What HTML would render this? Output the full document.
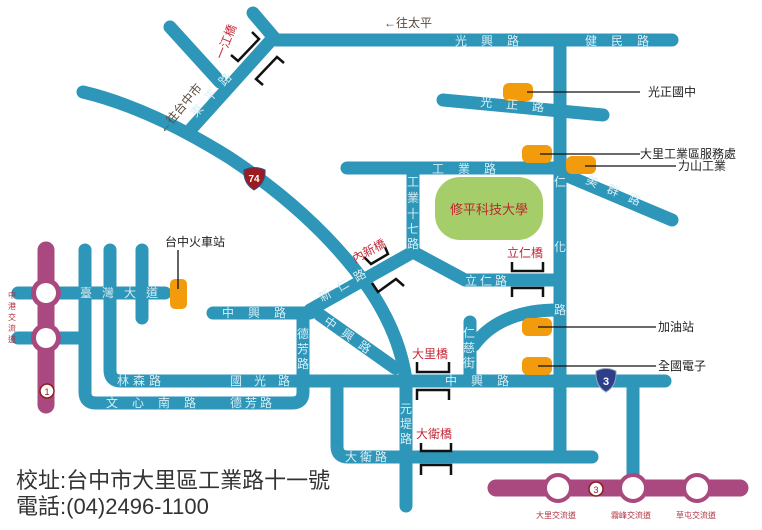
<!DOCTYPE html>
<html><head><meta charset="utf-8"><style>
html,body{margin:0;padding:0;background:#fff;}
svg{display:block;}
text{font-family:"Liberation Sans","Noto Sans CJK TC",sans-serif;}
.r{fill:none;stroke:#2e96b8;stroke-width:13;stroke-linecap:round;stroke-linejoin:round;}
.w{fill:#d8eef5;font-size:12px;}
.red{fill:#c42a3a;font-size:12px;}
.k{fill:#222;font-size:12px;}
.b{fill:none;stroke:#111;stroke-width:2.5;}
.o{fill:#f29b0c;}
.ln{stroke:#111;stroke-width:1.3;}
</style></head><body>
<svg width="762" height="530" viewBox="0 0 762 530" xmlns="http://www.w3.org/2000/svg">
<!-- roads -->
<path class="r" d="M253 13 L276 40 L672 40"/>
<path class="r" d="M273 38 L192 128"/>
<path class="r" d="M170 27 L220 82"/>
<path class="r" d="M83 92 Q150 108 230 158 Q320 218 370 290 Q400 335 406 380 L406 506"/>
<path class="r" d="M443 100 L603 115"/>
<path class="r" d="M347 168 L560 168"/>
<path class="r" d="M560 40 L560 455"/>
<path class="r" d="M563 174 L672 220"/>
<path class="r" d="M413 168 L413 252 L310 310"/>
<path class="r" d="M413 252 L465 280 L556 280"/>
<path class="r" d="M213 313 L310 313 L303 313"/>
<path class="r" d="M320 315 L395 368"/>
<path class="r" d="M303 313 L303 392 Q303 403 292 403 L96 403 Q85 403 85 392 L85 250"/>
<path class="r" d="M110 250 L110 370 Q110 381 121 381 L665 381"/>
<path class="r" d="M18 293 L165 293"/>
<path class="r" d="M142 250 L142 318"/>
<path class="r" d="M18 338 L85 338"/>
<path class="r" d="M337 381 L337 446 Q337 457 348 457 L592 457"/>
<path class="r" d="M470 322 L470 381"/>
<path class="r" d="M474 345 Q500 310 558 310"/>
<path class="r" d="M633 381 L633 480"/>
<!-- magenta -->
<path d="M46 250 L46 405" stroke="#a9497f" stroke-width="17" stroke-linecap="round" fill="none"/>
<circle cx="46" cy="293" r="15" fill="#a9497f"/><circle cx="46" cy="293" r="10" fill="#fff"/>
<circle cx="46" cy="338" r="15" fill="#a9497f"/><circle cx="46" cy="338" r="10" fill="#fff"/>
<path d="M496 488 L740 488" stroke="#a9497f" stroke-width="17" stroke-linecap="round" fill="none"/>
<circle cx="558" cy="488" r="15" fill="#a9497f"/><circle cx="558" cy="488" r="11" fill="#fff"/>
<circle cx="633" cy="488" r="15" fill="#a9497f"/><circle cx="633" cy="488" r="11" fill="#fff"/>
<circle cx="697" cy="488" r="15" fill="#a9497f"/><circle cx="697" cy="488" r="11" fill="#fff"/>
<circle cx="47" cy="391" r="7" fill="#fff" stroke="#8b1d1d" stroke-width="1.5"/><text x="47" y="395" font-size="9" fill="#8b1d1d" text-anchor="middle">1</text>
<circle cx="596" cy="489" r="7" fill="#fff" stroke="#8b1d1d" stroke-width="1.5"/><text x="596" y="493" font-size="9" fill="#8b1d1d" text-anchor="middle">3</text>
<!-- university -->
<rect x="435" y="177" width="108" height="63" rx="25" fill="#a5ce6a"/>
<text x="489" y="214" text-anchor="middle" fill="#c0262f" font-size="13">修平科技大學</text>
<!-- orange -->
<rect class="o" x="170" y="279" width="17" height="30" rx="5"/>
<rect class="o" x="503" y="83" width="30" height="18" rx="6"/>
<rect class="o" x="522" y="145" width="30" height="18" rx="6"/>
<rect class="o" x="566" y="156" width="30" height="18" rx="6"/>
<rect class="o" x="522" y="318" width="30" height="18" rx="6"/>
<rect class="o" x="522" y="357" width="30" height="18" rx="6"/>
<line class="ln" x1="178" y1="250" x2="178" y2="289"/>
<line class="ln" x1="527" y1="92" x2="640" y2="92"/>
<line class="ln" x1="540" y1="154" x2="640" y2="154"/>
<line class="ln" x1="585" y1="166" x2="676" y2="166"/>
<line class="ln" x1="538" y1="327" x2="656" y2="327"/>
<line class="ln" x1="538" y1="366" x2="656" y2="366"/>
<text class="k" x="648" y="96">光正國中</text>
<text class="k" x="640" y="158">大里工業區服務處</text>
<text class="k" x="678" y="170">力山工業</text>
<text class="k" x="658" y="331">加油站</text>
<text class="k" x="658" y="370">全國電子</text>
<text class="k" x="165" y="246">台中火車站</text>
<text x="384" y="27" fill="#5a4a3a" font-size="12">←往太平</text>
<text x="0" y="0" fill="#5a4a3a" font-size="12" transform="translate(164,134) rotate(-50)">←往台中市</text>
<!-- shields -->
<path d="M244 170 Q254 165 265 170 Q266 183 254 190 Q243 183 244 170Z" fill="#9b1b1f" stroke="#3a4a8a" stroke-width="1"/>
<text x="254" y="182" fill="#fff" font-size="10" font-weight="bold" text-anchor="middle">74</text>
<path d="M596 371 Q606 366 616 371 Q617 386 606 392 Q595 386 596 371Z" fill="#2c3f88" stroke="#9ab" stroke-width="1"/>
<text x="606" y="385" fill="#fff" font-size="11" font-weight="bold" text-anchor="middle">3</text>
<!-- bridges -->
<path class="b" d="M252 32 L259 39 L238 61 L231 55"/>
<path class="b" d="M284 63 L277 57 L256 79 L263 85"/>
<path class="b" d="M364 257 L371 264 L388 254 L385 247"/>
<path class="b" d="M372 283 L378 292 L396 279 L404 286"/>
<path class="b" d="M512 262 L512 271 L543 271 L543 262 M512 297 L512 288 L543 288 L543 297"/>
<path class="b" d="M417 362 L417 372 L449 372 L449 362 M417 400 L417 390 L449 390 L449 400"/>
<path class="b" d="M421 443 L421 451 L451 451 L451 443 M421 475 L421 465 L451 465 L451 475"/>
<text class="red" x="0" y="0" transform="translate(223,60) rotate(-68)">一江橋</text>
<text class="red" x="0" y="0" transform="translate(355,263) rotate(-28)">內新橋</text>
<text class="red" x="507" y="257">立仁橋</text>
<text class="red" x="412" y="358">大里橋</text>
<text class="red" x="416" y="438">大衛橋</text>
<!-- road labels -->
<g class="w">
<text x="455" y="45" letter-spacing="14">光興路</text>
<text x="585" y="45" letter-spacing="14">健民路</text>
<text x="0" y="0" transform="translate(480,106) rotate(5)" letter-spacing="14">光正路</text>
<text x="432" y="173" letter-spacing="14">工業路</text>
<text x="0" y="0" transform="translate(585,183) rotate(23)" letter-spacing="11">美群路</text>
<text x="407" y="186">工</text><text x="407" y="202">業</text><text x="407" y="218">十</text><text x="407" y="233">七</text><text x="407" y="248">路</text>
<text x="554" y="186">仁</text><text x="554" y="251">化</text><text x="554" y="314">路</text>
<text x="463" y="337">仁</text><text x="463" y="352">慈</text><text x="463" y="367">街</text>
<text x="465" y="285" letter-spacing="3">立仁路</text>
<text x="0" y="0" transform="translate(196,118) rotate(-48)" letter-spacing="9">東平路</text>
<text x="0" y="0" transform="translate(322,302) rotate(-30)" letter-spacing="8">新仁路</text>
<text x="0" y="0" transform="translate(323,323) rotate(35)" letter-spacing="9">中興路</text>
<text x="222" y="317" letter-spacing="14">中興路</text>
<text x="297" y="338">德</text><text x="297" y="353">芳</text><text x="297" y="368">路</text>
<text x="80" y="297" letter-spacing="10">臺灣大道</text>
<text x="117" y="385" letter-spacing="4">林森路</text>
<text x="230" y="385" letter-spacing="12">國光路</text>
<text x="106" y="407" letter-spacing="14">文心南路</text>
<text x="230" y="407" letter-spacing="3">德芳路</text>
<text x="445" y="385" letter-spacing="14">中興路</text>
<text x="400" y="413">元</text><text x="400" y="428">堤</text><text x="400" y="443">路</text>
<text x="345" y="461" letter-spacing="3">大衛路</text>
</g>
<g fill="#b03040" font-size="8">
<text x="8" y="298">中</text><text x="8" y="309">港</text><text x="8" y="320">交</text><text x="8" y="331">流</text><text x="8" y="342">道</text>
<text x="536" y="518">大里交流道</text>
<text x="611" y="518">霧峰交流道</text>
<text x="676" y="518">草屯交流道</text>
</g>
<text x="16" y="488" font-size="22" fill="#333">校址:台中市大里區工業路十一號</text>
<text x="16" y="514" font-size="22" fill="#333">電話:(04)2496-1100</text>
</svg>
</body></html>
